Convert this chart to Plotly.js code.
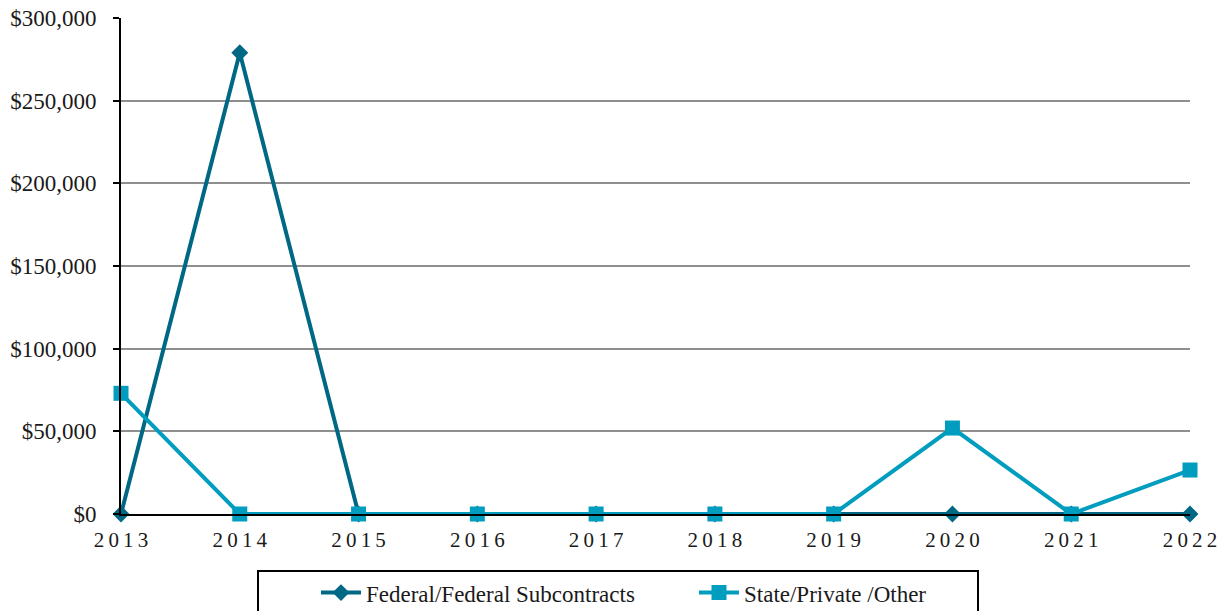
<!DOCTYPE html>
<html>
<head>
<meta charset="utf-8">
<script src="https://cdn.plot.ly/plotly-3.0.1.min.js"></script>
<style>html,body{margin:0;padding:0;background:#fff;}#chart{width:1225px;height:611px;}</style>
</head>
<body>
<div id="chart"></div>
<script>
const years = [2013, 2014, 2015, 2016, 2017, 2018, 2019, 2020, 2021, 2022];
const yearLabels = ["2\u20090\u20091\u20093","2\u20090\u20091\u20094","2\u20090\u20091\u20095","2\u20090\u20091\u20096","2\u20090\u20091\u20097","2\u20090\u20091\u20098","2\u20090\u20091\u20099","2\u20090\u20092\u20090","2\u20090\u20092\u20091","2\u20090\u20092\u20092"];
const federal = [0, 279000, 0, 0, 0, 0, 0, 0, 0, 0];
const statePrivate = [73000, 0, 0, 0, 0, 0, 0, 52000, 0, 26600];
const yTicks = [0, 50000, 100000, 150000, 200000, 250000, 300000];
const yTickLabels = ["$0", "$50,000", "$100,000", "$150,000", "$200,000", "$250,000", "$300,000"];

const font = "Liberation Serif";

const traces = [
  {
    x: years, y: federal, name: "Federal/Federal Subcontracts",
    type: "scatter", mode: "lines+markers",
    line: {color: "#006885", width: 4},
    marker: {symbol: "diamond", size: 13, color: "#006885"},
    cliponaxis: false
  },
  {
    x: years, y: statePrivate, name: "State/Private /Other",
    type: "scatter", mode: "lines+markers",
    line: {color: "#009dbf", width: 4},
    marker: {symbol: "square", size: 15, color: "#009dbf"},
    cliponaxis: false
  }
];

const layout = {
  width: 1225, height: 611,
  margin: {l: 121, r: 35, t: 18, b: 97, autoexpand: false},
  paper_bgcolor: "#fff", plot_bgcolor: "#fff",
  font: {family: font, size: 23, color: "#1a1a1a"},
  showlegend: true,
  xaxis: {
    range: [2013, 2022], tickvals: years, ticktext: yearLabels,
    showgrid: false, zeroline: false, automargin: false,
    showline: true, linecolor: "#000", linewidth: 2,
    ticks: "", ticklabelstandoff: 6,
    tickfont: {family: font, size: 21, color: "#1a1a1a"},
    fixedrange: true
  },
  yaxis: {
    range: [0, 300000], tickvals: yTicks, ticktext: yTickLabels,
    showgrid: true, gridcolor: "#8f8f8f", gridwidth: 2, automargin: false,
    zeroline: false, showline: true, linecolor: "#000", linewidth: 2,
    ticks: "outside", ticklen: 6, tickcolor: "#000", tickwidth: 2,
    ticklabelstandoff: 12,
    tickfont: {family: font, size: 23, color: "#1a1a1a"},
    fixedrange: true
  },
  shapes: [
    {type: "rect", xref: "paper", yref: "paper",
     x0: (258 - 121) / 1069, x1: (978 - 121) / 1069,
     y0: (514 - 571) / 496, y1: (514 - 640) / 496,
     line: {color: "#000", width: 2}, fillcolor: "rgba(0,0,0,0)"}
  ],
  legend: {
    orientation: "h", x: 0.1824, xanchor: "left",
    yref: "container", y: 0.03, yanchor: "middle",
    borderwidth: 0, bgcolor: "rgba(0,0,0,0)",
    font: {family: font, size: 23, color: "#1a1a1a"},
    itemwidth: 40, entrywidth: 323, traceorder: "normal"
  }
};

Plotly.newPlot("chart", traces, layout, {displayModeBar: false, staticPlot: true});
</script>
</body>
</html>
